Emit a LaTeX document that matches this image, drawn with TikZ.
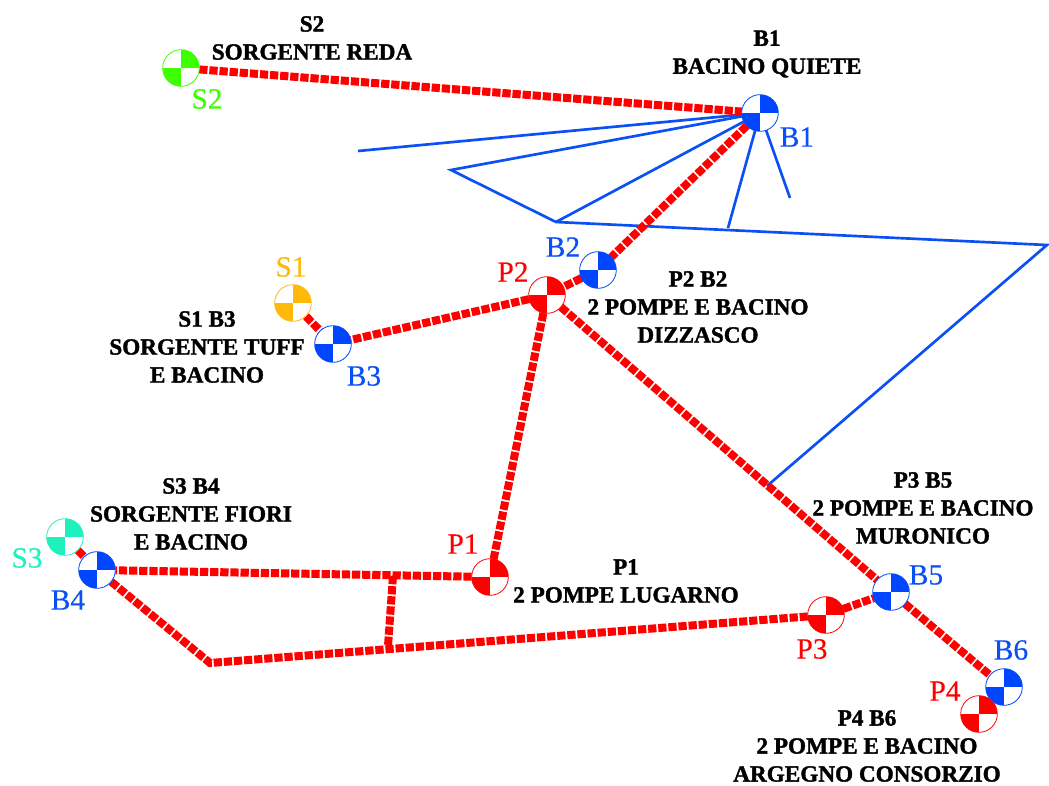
\documentclass[tikz,border=0pt]{standalone}
\usepackage{fontspec}
\usetikzlibrary{backgrounds}
\setmainfont{Liberation Serif}[BoldFeatures={FakeBold=1.5}]
\newfontfamily\tagfont{Liberation Serif}[FakeBold=0.4]
\definecolor{cred}{RGB}{255,0,0}
\definecolor{cblue}{RGB}{0,70,255}
\definecolor{cgreen}{RGB}{60,255,0}
\definecolor{cyel}{RGB}{255,185,10}
\definecolor{ccyan}{RGB}{30,240,190}
\definecolor{lblue}{RGB}{10,80,245}
\tikzset{
  x=0.75pt,y=-0.75pt,
  station/.style={circle,draw=#1,fill=white,line width=0.6pt,minimum size=27.5pt,inner sep=0pt,outer sep=0pt,
    path picture={\fill[#1] (path picture bounding box.center) rectangle (path picture bounding box.north east);
                  \fill[#1] (path picture bounding box.center) rectangle (path picture bounding box.south west);}},
  pipe/.style={draw=cred,line width=6pt,dash pattern=on 6.2pt off 1.4pt},
  branch/.style={draw=lblue,line width=2pt},
  tag/.style={font=\tagfont\fontsize{22}{22}\selectfont,text=#1,inner sep=0pt},
  title/.style={font=\bfseries\fontsize{17.4}{21}\selectfont,align=center,inner sep=0pt,text=black}
}
\begin{document}
\begin{tikzpicture}
\useasboundingbox (0,0) rectangle (1049,785);
% free ends
\coordinate (f1) at (358,151);
\coordinate (f2) at (451,170);
\coordinate (f3) at (556,222);
\coordinate (f4) at (1047,245);
\coordinate (f5) at (767,486);
\coordinate (f6) at (728,228);
\coordinate (f7) at (790,198);
\coordinate (k1) at (210,663);
\coordinate (j1) at (393,576);
\coordinate (j2) at (388,646);
% stations
\node[station=cgreen] (S2) at (181,68) {};
\node[station=cblue] (B1) at (760,113) {};
\node[station=cblue] (B2) at (598,270) {};
\node[station=cred] (P2) at (547,295) {};
\node[station=cyel] (S1) at (293,303) {};
\node[station=cblue] (B3) at (333,344) {};
\node[station=cred] (P1) at (490,577) {};
\node[station=ccyan] (S3) at (65,537) {};
\node[station=cblue] (B4) at (97,570) {};
\node[station=cblue] (B5) at (891,592) {};
\node[station=cred] (P3) at (826,615) {};
\node[station=cblue] (B6) at (1004,687) {};
\node[station=cred] (P4) at (979,714) {};
\begin{pgfonlayer}{background}
% blue lines
\draw[branch] (B1.center) -- (f1);
\draw[branch] (B1.center) -- (f2) -- (f3) -- (f4) -- (f5);
\draw[branch] (B1.center) -- (f3);
\draw[branch] (B1.center) -- (f6);
\draw[branch] (B1.center) -- (f7);
% red lines
\draw[pipe] (S2) -- (B1);
\draw[pipe] (B1) -- (B2);
\draw[pipe] (B2) -- (P2);
\draw[pipe] (P2) -- (B3);
\draw[pipe] (S1) -- (B3);
\draw[pipe] (P2) -- (P1);
\draw[pipe] (P2) -- (B5);
\draw[pipe] (P1) -- (B4);
\draw[pipe] (B4) -- (k1) -- (P3);
\draw[pipe] (P3) -- (B5);
\draw[pipe] (B5) -- (B6);
\draw[pipe] (S3) -- (B4);
\draw[pipe] (j1) -- (j2);
\end{pgfonlayer}
% small tags
\node[tag=cgreen] (tS2) at (207,99) {S2};
\node[tag=lblue] (tB1) at (797,137) {B1};
\node[tag=lblue] (tB2) at (563,247) {B2};
\node[tag=cred] (tP2) at (513,272) {P2};
\node[tag=cyel] (tS1) at (291,267) {S1};
\node[tag=lblue] (tB3) at (364,376) {B3};
\node[tag=cred] (tP1) at (463,544) {P1};
\node[tag=ccyan] (tS3) at (27,558) {S3};
\node[tag=lblue] (tB4) at (68,600) {B4};
\node[tag=lblue] (tB5) at (926,575) {B5};
\node[tag=cred] (tP3) at (812,649) {P3};
\node[tag=lblue] (tB6) at (1011,650) {B6};
\node[tag=cred] (tP4) at (945,691) {P4};
% titles
\node[title] (l1) at (312,38) {S2\\SORGENTE REDA};
\node[title] (l2) at (767,54) {B1\\BACINO QUIETE};
\node[title] (l3) at (698,307) {P2 B2\\2 POMPE E BACINO\\DIZZASCO};
\node[title] (l4) at (207,347) {S1 B3\\SORGENTE TUFF\\E BACINO};
\node[title] (l5) at (191,514) {S3 B4\\SORGENTE FIORI\\E BACINO};
\node[title] (l6) at (626,581) {P1\\2 POMPE LUGARNO};
\node[title] (l7) at (923,508) {P3 B5\\2 POMPE E BACINO\\MURONICO};
\node[title] (l8) at (867,746) {P4 B6\\2 POMPE E BACINO\\ARGEGNO CONSORZIO};
\end{tikzpicture}
\end{document}
